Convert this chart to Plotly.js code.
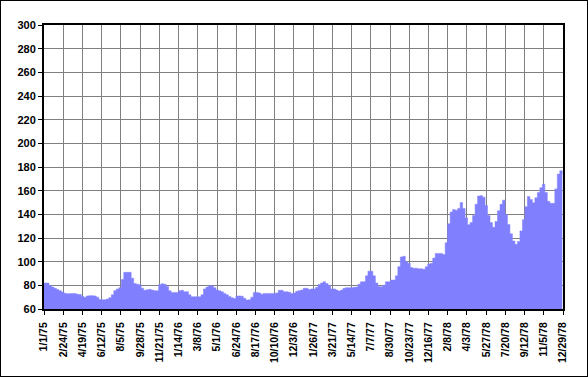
<!DOCTYPE html>
<html>
<head>
<meta charset="utf-8">
<script src="https://cdn.plot.ly/plotly-3.0.1.min.js"></script>
<style>
  html, body { margin: 0; padding: 0; background: #fff; }
  #frame { position: absolute; left: 0; top: 0; width: 586px; height: 375px; border: 1px solid #000; }
  #chart { width: 586px; height: 375px; }
</style>
</head>
<body>
<div id="frame"><div id="chart"></div></div>
<script>
// Weekly series starting 1/1/75
const startDate = '1975-01-01';
const weekStepDays = 7;
const weeklyValues = [
  82, 82, 80, 78.5, 77.5, 76.5, 75.5, 74.3, 73.3, 72.8,
  73, 73, 73, 72.5, 72.3, 70.5, 70, 71, 71.3, 71.3,
  71, 70, 68, 67.9, 67.9, 68.5, 69.6, 72, 75.5, 76.9,
  78, 85, 91, 91, 91, 86, 81.5, 81, 80.5, 77.5,
  75.8, 76.2, 76.6, 76, 75.5, 75.5, 80.5, 81.4, 81, 79,
  75.5, 74, 74, 74, 75.5, 75.8, 74.6, 74.6, 72, 70.4,
  70.4, 70.4, 70.4, 72, 77, 78.5, 79.7, 79.7, 78, 76,
  75.4, 74.5, 73.2, 72, 70.6, 69.5, 68.8, 71, 71, 70.8,
  69, 67.6, 67.8, 70, 74, 74, 73.5, 72.5, 73.2, 73.2,
  73.2, 73.2, 73.2, 73.5, 75.8, 75.8, 74.6, 74.6, 74.2, 73.2,
  73.5, 75, 75.5, 76, 77.5, 77.5, 76.5, 77, 77, 78.4,
  80.7, 82, 83, 81.6, 80, 77, 77, 76, 75.2, 76,
  77.5, 78, 78, 78, 78.4, 78.5, 81, 83, 83, 88,
  92, 92, 88, 82, 79, 78.9, 80, 83, 83, 84.5,
  84.5, 88, 95.8, 104, 104.5, 100, 98.6, 95, 94.4, 94.4,
  94, 94, 93.5, 95.8, 98, 98.6, 103, 107, 107, 107,
  106, 116, 132, 142, 144, 143.5, 145, 150, 145, 137,
  131.3, 133, 139, 148.5, 155.5, 155.8, 154.5, 147.5, 139, 133,
  129, 134, 143, 148.5, 152, 140, 131.5, 123.5, 117.5, 114.7,
  117, 126, 135.5, 146.5, 155, 152.5, 149.8, 154, 158.5, 162.5,
  165.5, 158.5, 151, 149.3, 149.3, 161.5, 174, 176.9, 174
];

const tickDates = [
  '1975-01-01','1975-02-24','1975-04-19','1975-06-12','1975-08-05','1975-09-28','1975-11-21',
  '1976-01-14','1976-03-08','1976-05-01','1976-06-24','1976-08-17','1976-10-10','1976-12-03',
  '1977-01-26','1977-03-21','1977-05-14','1977-07-07','1977-08-30','1977-10-23','1977-12-16',
  '1978-02-08','1978-04-03','1978-05-27','1978-07-20','1978-09-12','1978-11-05','1978-12-29'
];
const tickLabels = [
  '1/1/75','2/24/75','4/19/75','6/12/75','8/5/75','9/28/75','11/21/75',
  '1/14/76','3/8/76','5/1/76','6/24/76','8/17/76','10/10/76','12/3/76',
  '1/26/77','3/21/77','5/14/77','7/7/77','8/30/77','10/23/77','12/16/77',
  '2/8/78','4/3/78','5/27/78','7/20/78','9/12/78','11/5/78','12/29/78'
];
const yTicks = [60, 80, 100, 120, 140, 160, 180, 200, 220, 240, 260, 280, 300];

const t0 = Date.parse(startDate + 'T00:00:00Z');
const weekDates = weeklyValues.map((_, i) => {
  const d = new Date(t0 + i * weekStepDays * 86400000);
  return d.toISOString().slice(0, 10);
});

const font = { family: 'Liberation Sans, Arial, sans-serif', color: '#000', weight: 'bold' };

Plotly.newPlot('chart', [{
  x: weekDates,
  y: weeklyValues,
  type: 'scatter',
  mode: 'lines',
  line: { shape: 'hv', width: 0.5, color: '#8080ff' },
  fill: 'tozeroy',
  fillcolor: '#8080ff',
  hoverinfo: 'skip'
}], {
  width: 586, height: 375,
  margin: { l: 43, r: 24, t: 24, b: 67, pad: 0 },
  paper_bgcolor: '#ffffff',
  plot_bgcolor: '#ffffff',
  showlegend: false,
  xaxis: {
    type: 'date',
    range: ['1975-01-01', '1978-12-29'],
    tickmode: 'array',
    tickvals: tickDates,
    ticktext: tickLabels,
    tickangle: -90,
    tickfont: Object.assign({ size: 10.5 }, font),
    ticklabelstandoff: 3,
    ticks: 'outside', ticklen: 4, tickwidth: 1, tickcolor: '#000',
    showgrid: true, gridcolor: '#808080', gridwidth: 1,
    showline: true, linecolor: '#000', linewidth: 2, mirror: true,
    zeroline: false, fixedrange: true
  },
  yaxis: {
    range: [60, 300],
    tickmode: 'array',
    tickvals: yTicks,
    ticktext: yTicks.map(String),
    tickfont: Object.assign({ size: 11 }, font),
    ticks: 'outside', ticklen: 4, tickwidth: 1, tickcolor: '#000',
    showgrid: true, gridcolor: '#808080', gridwidth: 1,
    showline: true, linecolor: '#000', linewidth: 2, mirror: true,
    zeroline: false, fixedrange: true
  }
}, { staticPlot: true, displayModeBar: false });
</script>
</body>
</html>
